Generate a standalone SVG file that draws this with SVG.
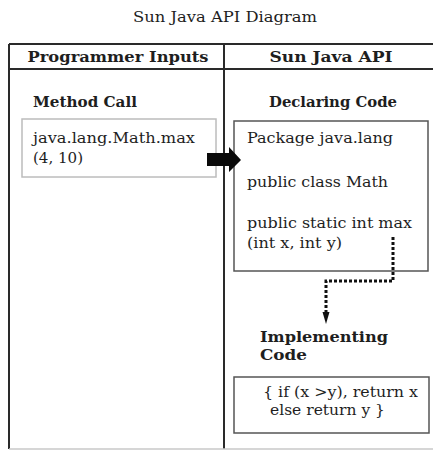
<svg xmlns="http://www.w3.org/2000/svg" width="433" height="451" viewBox="0 0 433 451">
<style>
text{font-family:"DejaVu Serif","Liberation Serif",serif;fill:#1e1e1e}
.h{font-weight:bold;font-size:15px}
.t{font-size:15px}
.title{font-size:14.5px}
.grid{stroke:#2a2a2a;stroke-width:2;fill:none}
.box{fill:#fff;stroke:#555;stroke-width:1.5}
.lbox{fill:#fff;stroke:#bcbcbc;stroke-width:1.5}
.dot{stroke:#111;stroke-width:3;stroke-dasharray:3 2;fill:none}
</style>
<rect width="433" height="451" fill="#fff"/>
<text class="title" x="225" y="22" text-anchor="middle" textLength="184" lengthAdjust="spacingAndGlyphs">Sun Java API Diagram</text>
<g id="table">
<path class="grid" d="M9,44 H433 M9,69 H433 M9,44 V449 M224,44 V449"/>
<path d="M9,449 H433" stroke="#c8c8c8" stroke-width="1.5"/>
<text class="h" x="118" y="62" text-anchor="middle" textLength="181" lengthAdjust="spacingAndGlyphs">Programmer Inputs</text>
<text class="h" x="331" y="62" text-anchor="middle" textLength="123" lengthAdjust="spacingAndGlyphs">Sun Java API</text>
</g>
<g id="method-call">
<text class="h" x="33" y="107" textLength="104" lengthAdjust="spacingAndGlyphs">Method Call</text>
<rect class="lbox" x="22" y="119" width="194" height="58"/>
<text class="t" x="33" y="143" textLength="162" lengthAdjust="spacingAndGlyphs">java.lang.Math.max</text>
<text class="t" x="33" y="163" textLength="50" lengthAdjust="spacingAndGlyphs">(4, 10)</text>
</g>
<g id="declaring-code">
<text class="h" x="269" y="107" textLength="128" lengthAdjust="spacingAndGlyphs">Declaring Code</text>
<rect class="box" x="234" y="121" width="194" height="150"/>
<text class="t" x="247" y="143" textLength="146" lengthAdjust="spacingAndGlyphs">Package java.lang</text>
<text class="t" x="247" y="187" textLength="141" lengthAdjust="spacingAndGlyphs">public class Math</text>
<text class="t" x="247" y="228" textLength="165" lengthAdjust="spacingAndGlyphs">public static int max</text>
<text class="t" x="247" y="248" textLength="95" lengthAdjust="spacingAndGlyphs">(int x, int y)</text>
</g>
<g id="implementing-code">
<text class="h" x="260" y="342" textLength="128" lengthAdjust="spacingAndGlyphs">Implementing</text>
<text class="h" x="260" y="360" textLength="47" lengthAdjust="spacingAndGlyphs">Code</text>
<rect class="box" x="234" y="377" width="195" height="56"/>
<text class="t" x="263" y="397" textLength="155" lengthAdjust="spacingAndGlyphs">{ if (x &gt;y), return x</text>
<text class="t" x="270" y="415" textLength="115" lengthAdjust="spacingAndGlyphs">else return y }</text>
</g>
<g id="connectors">
<path d="M207,153 H229 V147 L241,160 L229,172 V166 H207 Z" fill="#0a0a0a"/>
<path class="dot" d="M393,237 V281 H326 V314"/>
<path d="M322.5,312 L329.5,312 L326,324 Z" fill="#111"/>
</g>
</svg>
